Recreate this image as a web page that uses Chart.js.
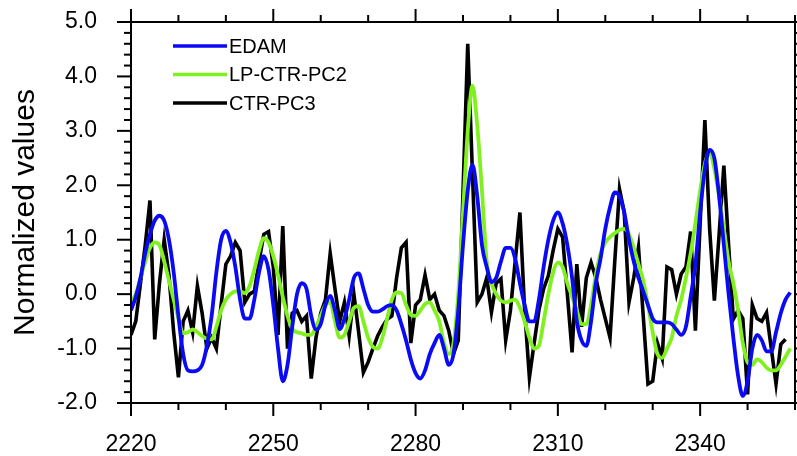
<!DOCTYPE html>
<html>
<head>
<meta charset="utf-8">
<script src="https://cdn.jsdelivr.net/npm/chart.js@4.4.1/dist/chart.umd.min.js"></script>
<style>
  html, body { margin: 0; padding: 0; background: #fff; }
  #divGrafico { width: 797px; height: 456px; }
</style>
</head>
<body>
<div id="divGrafico"><canvas id="graficoLinhas" width="797" height="456"></canvas></div>
<script>
// yearly values, first year 2220
const firstYear = 2220;

const edam = [
  -0.3, -0.05, 0.3, 0.75, 1.1, 1.35, 1.44, 1.35, 1.0, 0.4,
  -0.4, -1.1, -1.4, -1.42, -1.4, -1.3, -0.95, -0.4, 0.4, 1.0,
  1.16, 0.95, 0.5, -0.1, -0.45, -0.45, -0.1, 0.4, 0.7, 0.45,
  -0.2, -1.0, -1.6, -1.3, -0.6, 0.0, 0.2, 0.1, -0.4, -0.65,
  -0.55, -0.2, -0.03, -0.3, -0.64, -0.45, -0.1, 0.3, 0.38, 0.1,
  -0.2, -0.32, -0.32, -0.28, -0.22, -0.2, -0.3, -0.55, -0.85, -1.2,
  -1.45, -1.55, -1.4, -1.1, -0.9, -0.75, -1.0, -1.3, -1.1, -0.3,
  0.9, 1.9, 2.38, 1.8, 0.9, 0.5, 0.22, 0.3, 0.6, 0.85,
  0.85, 0.65, 0.2, -0.2, -0.5, -0.5, -0.1, 0.5, 1.0, 1.35,
  1.5, 1.3, 0.9, 0.3, -0.5, -0.85, -0.95, -0.5, 0.2, 0.65,
  1.2, 1.6, 1.87, 1.8, 1.5, 1.0, 0.6, 0.3, 0.05, -0.2,
  -0.45, -0.52, -0.52, -0.52, -0.55, -0.65, -0.75, -0.6, -0.05, 0.55,
  1.5, 2.3, 2.65, 2.5, 1.8, 0.9, 0.0, -0.8, -1.5, -1.87,
  -1.6, -1.0, -0.75, -0.85, -1.05, -1.05, -0.7, -0.35, -0.1, 0.03
];

const lpCtrPc2 = [
  -0.15, 0.0, 0.3, 0.6, 0.85, 0.95, 0.9, 0.6, 0.25, -0.1,
  -0.45, -0.72, -0.7, -0.65, -0.7, -0.77, -0.82, -0.83, -0.6, -0.3,
  -0.1, 0.0, 0.05, 0.05, 0.02, 0.15, 0.45, 0.8, 1.03, 0.95,
  0.7, 0.35, -0.05, -0.4, -0.64, -0.7, -0.72, -0.75, -0.75, -0.6,
  -0.4, -0.2, -0.15, -0.5, -0.8, -0.75, -0.5, -0.25, -0.22, -0.5,
  -0.8, -0.97, -1.0, -0.8, -0.45, -0.1, 0.03, 0.02, -0.2, -0.38,
  -0.4, -0.3, -0.18, -0.15, -0.3, -0.5, -0.9, -1.1, -0.9, 0.0,
  1.5, 3.0, 3.83, 3.1, 1.9, 0.6, 0.2, 0.0, -0.12, -0.15,
  -0.12, -0.1, -0.25, -0.5, -0.8, -1.0, -0.95, -0.5, 0.0, 0.4,
  0.58, 0.5, 0.2, -0.05, -0.3, -0.55, -0.55, -0.2, 0.35, 0.75,
  0.95, 1.05, 1.12, 1.18, 1.2, 1.1, 0.85, 0.55, 0.25, -0.2,
  -0.7, -1.1, -1.17, -1.0, -0.8, -0.4, -0.1, 0.3, 0.75, 1.3,
  1.9, 2.4, 2.6, 2.3, 1.8, 1.2, 0.6, 0.2, -0.3, -0.9,
  -1.25, -1.3, -1.2, -1.25, -1.35, -1.4, -1.4, -1.3, -1.15, -1.0
];

const ctrPc3 = [
  -0.75, -0.5, 0.2, 0.9, 1.72, -0.83, 0.2, 1.0, 0.35, -0.7,
  -1.53, -0.5, -0.3, -0.7, 0.15, -0.35, -1.0, -0.8, -1.0, -0.2,
  0.55, 0.7, 0.95, 0.8, -0.15, 0.0, 0.05, 0.6, 1.1, 1.15,
  0.5, -0.75, 1.25, -1.0, -0.35, -0.3, -0.5, -0.4, -1.55, -0.8,
  -0.35, -0.1, 0.75, 0.1, -0.5, -0.15, -0.77, 0.0, -0.7, -1.44,
  -1.25, -1.0, -0.77, -0.6, -0.46, -0.4, 0.3, 0.85, 0.95, -0.9,
  -0.2, -0.1, 0.35, -0.1, 0.0, -0.3, -0.4, -0.67, -1.1, -0.85,
  1.87, 4.6, 2.2, -0.15, 0.0, 0.3, -0.33, 0.2, 0.28, -0.85,
  -0.3, 0.6, 1.5, -0.3, -1.53, -0.9, -0.3, 0.1, 0.34, 0.8,
  1.2, 1.05, 0.0, -1.07, 0.55, -0.6, 0.3, 0.58, 0.3, -0.1,
  -0.45, -0.8, 0.6, 1.93, 1.5, -0.15, 0.3, 0.86, -0.4, -1.65,
  -1.6, -0.9, -1.18, 0.5, 0.45, 0.0, 0.37, 0.5, 1.15, -0.67,
  1.3, 3.2, 1.2, -0.12, 1.1, 2.36, 0.9, -0.46, -0.3, -0.45,
  -1.84, -0.2, -0.45, -0.5, -0.34, -1.0, -1.65, -0.92, -0.83
];

const xTicks = [2220, 2250, 2280, 2310, 2340];
const yTicks = [-2, -1, 0, 1, 2, 3, 4, 5];
const seriesNames = ["EDAM", "LP-CTR-PC2", "CTR-PC3"];
const seriesColors = ["#0a0af5", "#80f01e", "#000000"];

const toPoints = (vals) => vals.map((v, i) => ({ x: firstYear + i, y: v }));

// frame box + outward ticks (major/minor) on all 4 sides, NCL style
const frameTicks = {
  id: "frameTicks",
  afterDatasetsDraw(chart) {
    const { ctx, chartArea: a, scales } = chart;
    const x = scales.x, y = scales.y;
    const line = (x0, y0, x1, y1) => {
      ctx.beginPath();
      ctx.moveTo(x0, y0);
      ctx.lineTo(x1, y1);
      ctx.stroke();
    };
    ctx.save();
    ctx.strokeStyle = "#000";
    ctx.lineWidth = 2;
    ctx.strokeRect(a.left, a.top, a.right - a.left, a.bottom - a.top);
    for (let v = x.min; v <= x.max; v += 10) {
      const px = x.getPixelForValue(v);
      const len = xTicks.includes(v) ? 13 : 7;
      line(px, a.bottom, px, a.bottom + len);
      line(px, a.top, px, a.top - len);
    }
    for (let i = 0; i <= 35; i++) {
      const py = y.getPixelForValue(y.min + i * 0.2);
      const len = i % 5 === 0 ? 14 : 7;
      line(a.left - len, py, a.left, py);
      line(a.right, py, a.right + len, py);
    }
    ctx.restore();
  },
};

// legend inside the plot, top left
const legendaInterna = {
  id: "legendaInterna",
  afterDraw(chart) {
    const ctx = chart.ctx;
    ctx.save();
    ctx.lineWidth = 3.5;
    ctx.font = '20px "Liberation Sans", Arial, sans-serif';
    ctx.textBaseline = "middle";
    ctx.fillStyle = "#000";
    seriesNames.forEach((name, i) => {
      const yy = 46 + i * 28.5;
      ctx.strokeStyle = seriesColors[i];
      ctx.beginPath();
      ctx.moveTo(173, yy);
      ctx.lineTo(227, yy);
      ctx.stroke();
      ctx.fillText(name, 229, yy + 1);
    });
    ctx.restore();
  },
};

Chart.defaults.font.family = '"Liberation Sans", Arial, Helvetica, sans-serif';
Chart.defaults.color = "#000";

const ctx = document.getElementById("graficoLinhas").getContext("2d");

const myChart = new Chart(ctx, {
  type: "line",
  data: {
    datasets: [
      {
        label: seriesNames[0],
        data: toPoints(edam),
        borderColor: seriesColors[0],
        borderWidth: 3.8,
        cubicInterpolationMode: "monotone",
        pointRadius: 0,
      },
      {
        label: seriesNames[1],
        data: toPoints(lpCtrPc2),
        borderColor: seriesColors[1],
        borderWidth: 3.8,
        cubicInterpolationMode: "monotone",
        pointRadius: 0,
      },
      {
        label: seriesNames[2],
        data: toPoints(ctrPc3),
        borderColor: seriesColors[2],
        borderWidth: 3.6,
        tension: 0,
        pointRadius: 0,
      },
    ],
  },
  options: {
    responsive: false,
    animation: false,
    devicePixelRatio: 1,
    layout: { padding: { top: 22, right: 2, left: 0, bottom: 0 } },
    plugins: {
      legend: { display: false },
      tooltip: { enabled: false },
    },
    scales: {
      x: {
        type: "linear",
        min: 2220,
        max: 2360,
        afterBuildTicks: (scale) => {
          scale.ticks = xTicks.map((v) => ({ value: v }));
        },
        afterFit: (scale) => {
          scale.height = 53;
          scale.paddingLeft = 0;
          scale.paddingRight = 0;
        },
        grid: { display: false, drawTicks: false },
        border: { display: false },
        ticks: {
          autoSkip: false,
          maxRotation: 0,
          padding: 28,
          font: { size: 23 },
          callback: (v) => String(v),
        },
      },
      y: {
        min: -2,
        max: 5,
        afterBuildTicks: (scale) => {
          scale.ticks = yTicks.map((v) => ({ value: v }));
        },
        afterFit: (scale) => {
          scale.width = 131;
          scale.paddingTop = 0;
          scale.paddingBottom = 0;
        },
        grid: { display: false, drawTicks: false },
        border: { display: false },
        ticks: {
          padding: 34,
          font: { size: 23 },
          callback: (v) => v.toFixed(1),
        },
        title: {
          display: true,
          text: "Normalized values",
          font: { size: 30 },
          padding: { top: 8, bottom: 0 },
        },
      },
    },
  },
  plugins: [frameTicks, legendaInterna],
});
</script>
</body>
</html>
